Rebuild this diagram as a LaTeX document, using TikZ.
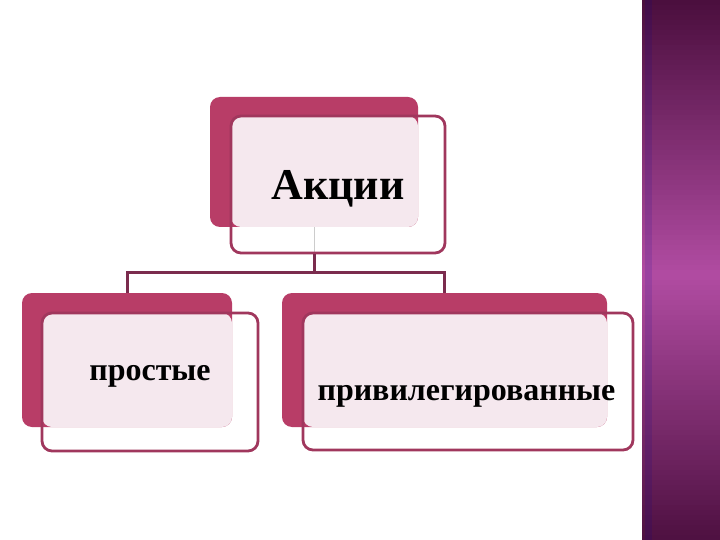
\documentclass[tikz,border=0pt]{standalone}
\usepackage{fontspec}
\setmainfont{Liberation Serif}
\definecolor{backpink}{HTML}{B83D67}
\definecolor{frontline}{HTML}{A0375D}
\definecolor{lightpink}{HTML}{F5E8EE}
\definecolor{conncol}{HTML}{7B2C4E}
\definecolor{stripdark}{HTML}{4A0E3D}
\definecolor{stripmid}{HTML}{B14CA2}
\tikzset{
  backbox/.style={draw=none, fill=backpink, rounded corners=10pt, inner sep=0pt},
  frontbox/.style={draw=frontline, line width=2.8pt, rounded corners=10pt, inner sep=0pt},
  lightbox/.style={fill=lightpink, rounded corners=10pt},
  conn/.style={draw=conncol, line width=3pt},
  faintconn/.style={draw=black!20, line width=1pt},
  lbl/.style={font=\bfseries, text=black, inner sep=0pt, anchor=base}
}
\begin{document}
\begin{tikzpicture}[x=1pt, y=-1pt]
\useasboundingbox (0,0) rectangle (720,540);
\fill[white] (0,0) rectangle (720,540);
% right decorative strip (vertical gradient dark - bright - dark)
\foreach \i in {0,...,107} {
  \pgfmathsetmacro{\t}{100*(1-abs(\i*5+2.5-275)/275)}
  \fill[stripmid!\t!stripdark] (642,\i*5) rectangle (720,\i*5+5.6);
}
\fill[blue!60!black, opacity=0.12] (645,0) rectangle (652,540);

% top box
\node[backbox, minimum width=208pt, minimum height=130pt] (topback) at (314,162) {};
\draw[faintconn] (topback.south) -- ++(0,26);
\fill[lightbox] (231,116) rectangle (418,227);
\node[frontbox, minimum width=214pt, minimum height=137pt] (top) at (338,184.5) {};
\node[lbl, font=\fontsize{44}{48}\selectfont\bfseries] (toptext) at (338,200) {Акции};

% left box
\node[backbox, minimum width=210pt, minimum height=134pt] (leftback) at (127,360) {};
\fill[lightbox] (42,313) rectangle (232,427);
\node[frontbox, minimum width=216pt, minimum height=138pt] (left) at (150,382) {};
\node[lbl, font=\fontsize{32}{36}\selectfont\bfseries] (lefttext) at (150,380) {простые};

% right box
\node[backbox, minimum width=325pt, minimum height=134pt] (rightback) at (444.5,360) {};
\fill[lightbox] (303,313) rectangle (607,427);
\node[frontbox, minimum width=330pt, minimum height=137pt] (right) at (468,381.5) {};
\node[lbl, font=\fontsize{32}{36}\selectfont\bfseries] (righttext) at (466.5,400) {привилегированные};

% connectors
\coordinate (bus) at (314,272);
\draw[conn] (topback.south |- top.south) -- (bus);
\draw[conn] (bus) -| (leftback.north);
\draw[conn] (bus) -| (rightback.north);
\end{tikzpicture}
\end{document}
